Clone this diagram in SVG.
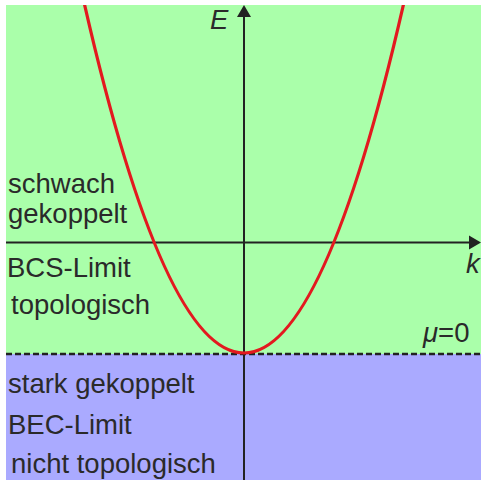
<svg xmlns="http://www.w3.org/2000/svg" width="481" height="481" viewBox="0 0 481 481">
<defs>
<clipPath id="plot"><rect x="6" y="5" width="475" height="475"/></clipPath>
<style>
.t{font-family:"Liberation Sans",Arial,sans-serif;font-size:27.5px;fill:#2a2a2a}
.i{font-style:italic}
.ax{stroke:#222;stroke-width:2;fill:none}
.ah{fill:#222}
</style>
</defs>
<g id="regions">
<rect x="6" y="5" width="475" height="349" fill="#aaffaa"/>
<rect x="6" y="354" width="475" height="126" fill="#aaaaff"/>
</g>
<g id="connectors">
<line class="ax" x1="6" y1="242.5" x2="470" y2="242.5"/>
<polygon class="ah" points="481,242.5 469,235.5 469,249.5"/>
<line class="ax" x1="244" y1="480" x2="244" y2="16"/>
<polygon class="ah" points="244,5 237,17 251,17"/>
<line x1="6" y1="354" x2="481" y2="354" stroke="#222" stroke-width="2.5" stroke-dasharray="6,3"/>
<path clip-path="url(#plot)" d="M84,2.2 Q244,703.8 404,2.2" fill="none" stroke="#e3191f" stroke-width="3.2"/>
</g>
<g id="labels">
<text class="t i" x="210" y="29">E</text>
<text class="t i" x="466" y="273">k</text>
<text class="t" x="423" y="342"><tspan class="i">μ</tspan>=0</text>
<text class="t" x="8" y="193">schwach</text>
<text class="t" x="8" y="223">gekoppelt</text>
<text class="t" x="7" y="277">BCS-Limit</text>
<text class="t" x="11" y="314">topologisch</text>
<text class="t" x="8" y="393">stark gekoppelt</text>
<text class="t" x="8" y="434">BEC-Limit</text>
<text class="t" x="11" y="473">nicht topologisch</text>
</g>
</svg>
